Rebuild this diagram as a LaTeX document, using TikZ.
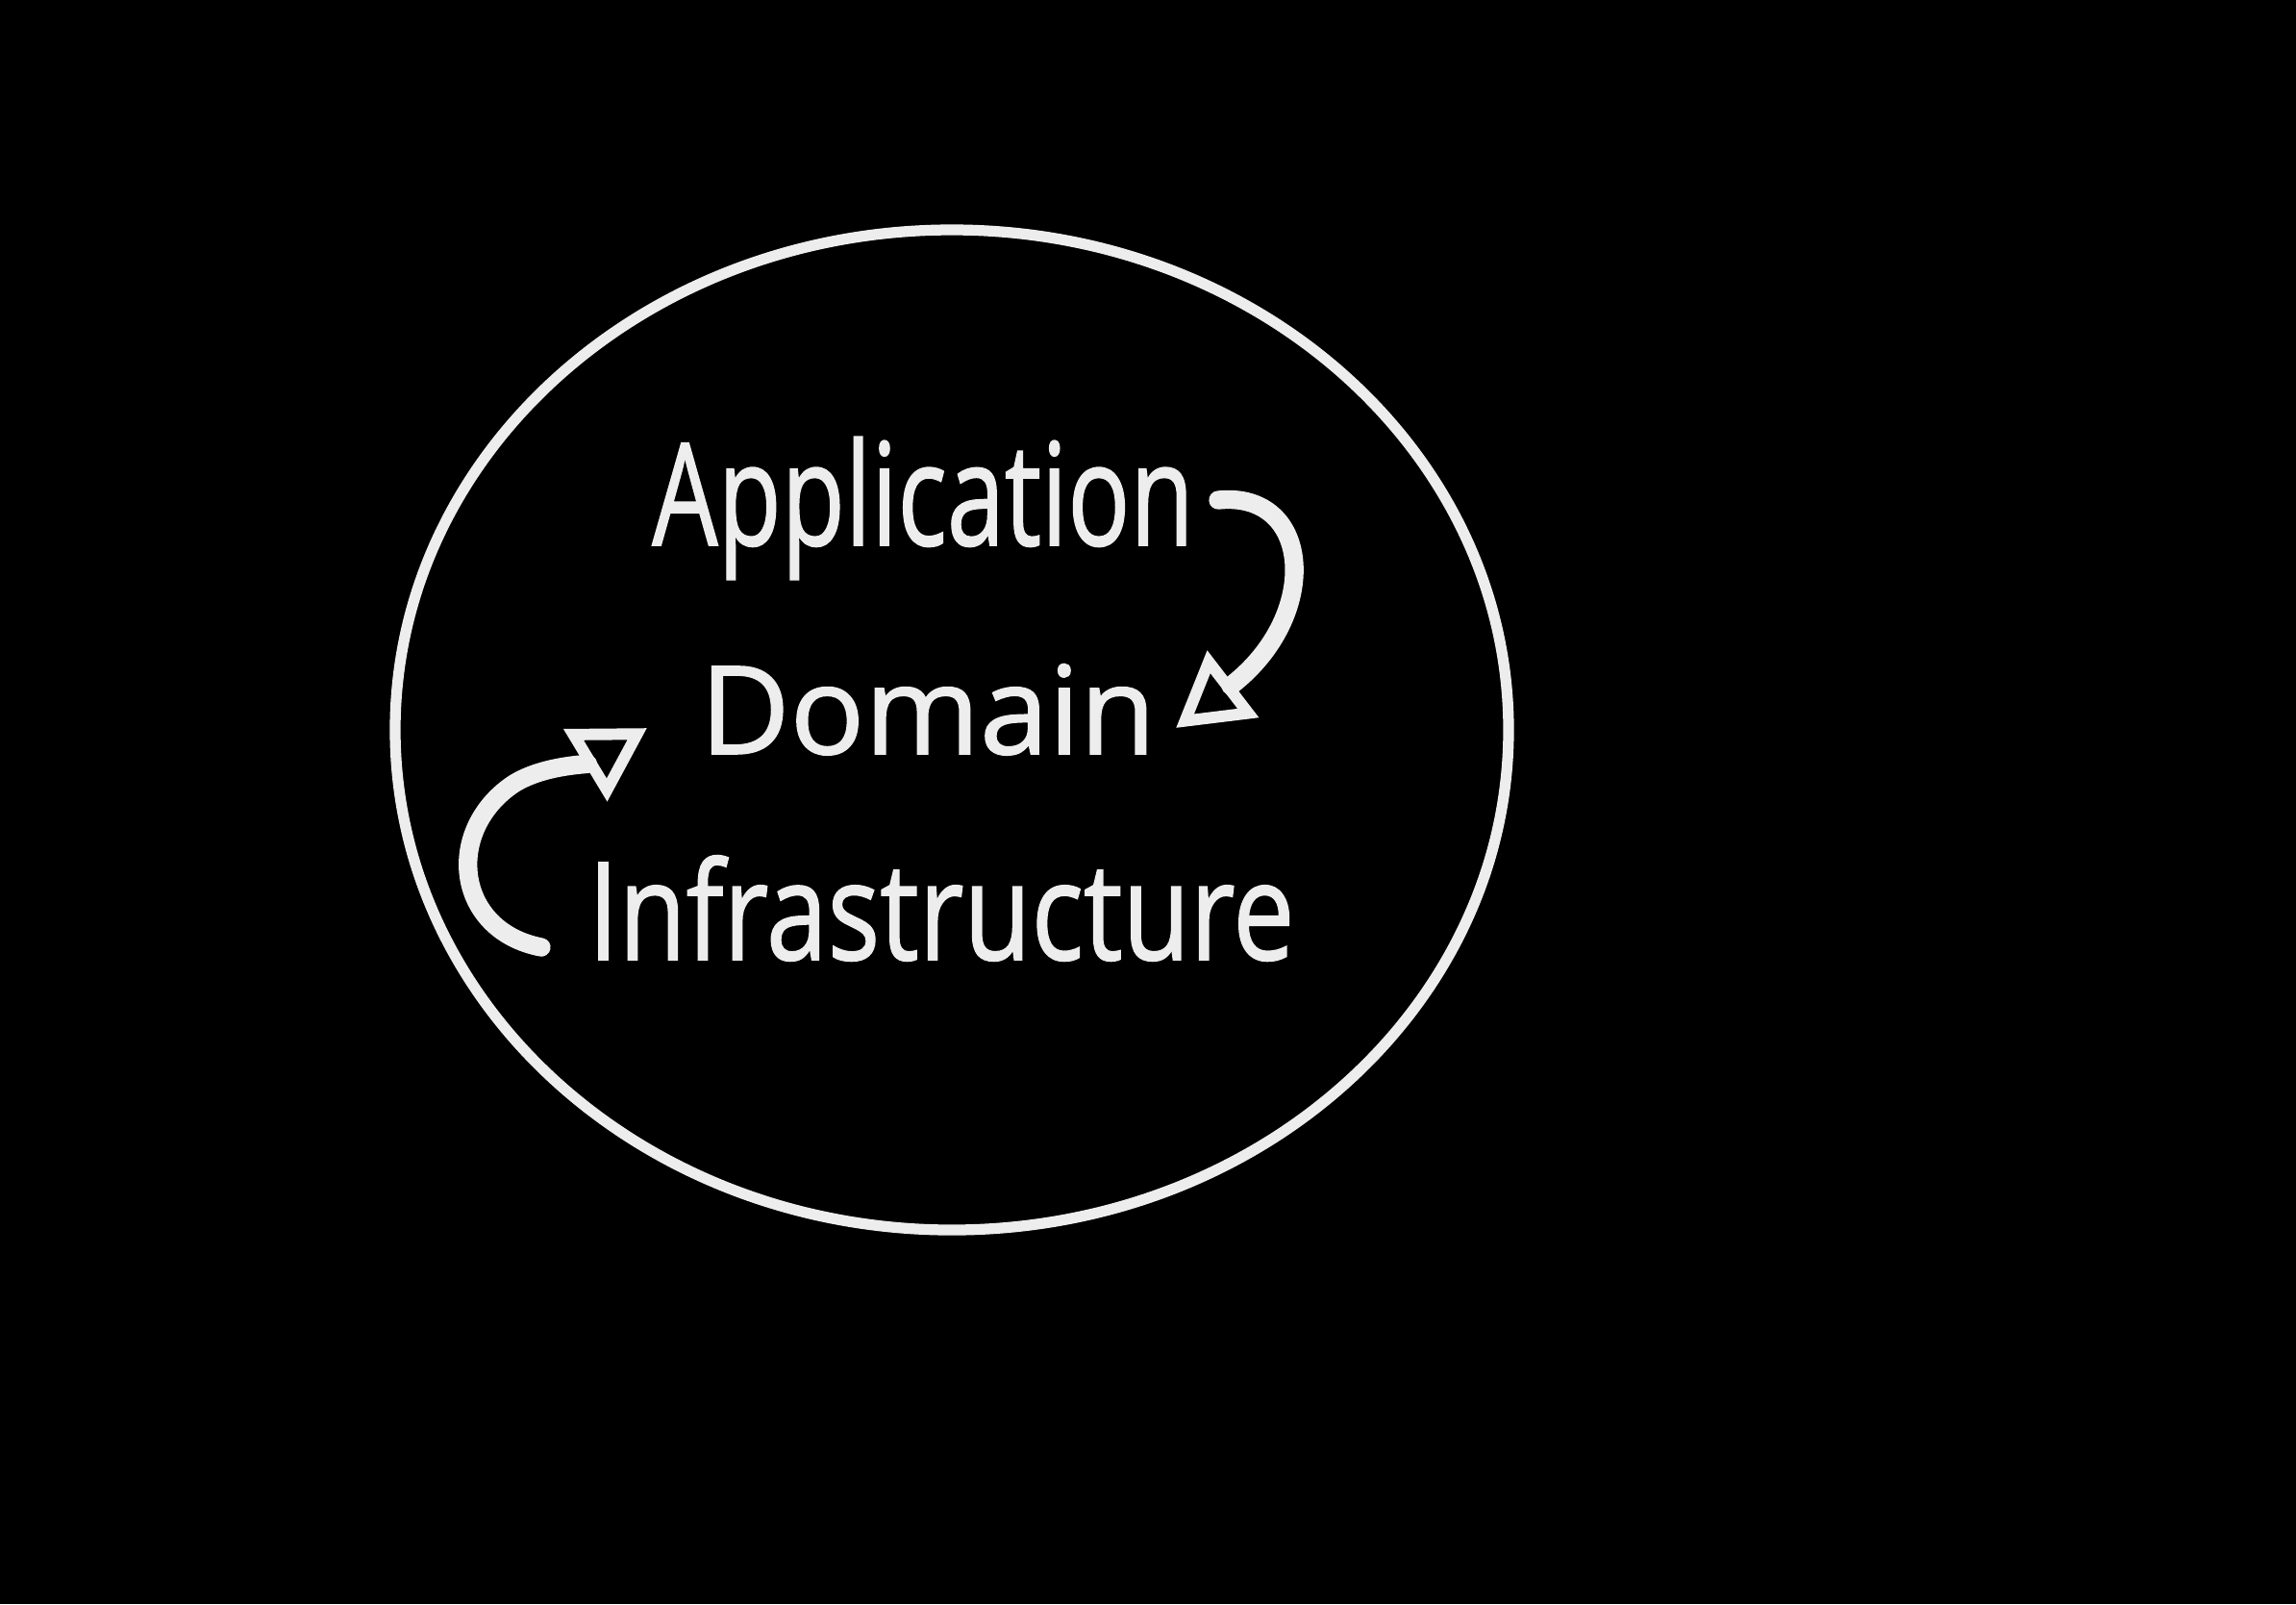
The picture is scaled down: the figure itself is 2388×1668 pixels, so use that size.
\documentclass[tikz,border=0pt]{standalone}
\usepackage{fontspec}
\newfontfamily\chalkfont{Open Sans}[FakeBold=1.2]
\usetikzlibrary{arrows.meta}

\begin{document}
\begin{tikzpicture}[
    x=0.01cm, y=-0.01cm,
    >={Triangle[open, length=7.5mm, width=8.5mm, line width=3.4pt]},
    chalk/.style={white!93!black, line cap=round, line join=round},
    layer/.style={text=white!93!black, anchor=base, inner sep=0pt, font=\chalkfont\fontsize{31}{36}\selectfont}
]
    % Hintergrund (Tafel)
    \fill[black] (0, 0) rectangle (2388, 1668);

    % Ring
    \draw[chalk, line width=3.2pt] (990, 759) ellipse [x radius=579, y radius=520];

    % Schichten
    \node[layer] (app)   at (960, 567) {\scalebox{0.99}[1.36]{Application}};
    \node[layer] (dom)   at (965, 784) {\scalebox{1.18}[1.17]{Domain}};
    \node[layer] (infra) at (979, 998) {\scalebox{1.05}[1.30]{Infrastructure}};

    % Enden der Pfeile
    \coordinate (appout)  at (1267, 520);
    \coordinate (domin1)  at (1223, 757);
    \coordinate (infraout) at (563, 985);
    \coordinate (domin2)  at (673, 757);

    % Pfeile
    \draw[chalk, line width=5.5pt, ->] (appout) .. controls (1365, 510) and (1375, 640) .. (domin1);
    \draw[chalk, line width=5.5pt, ->] (infraout) .. controls (475, 968) and (462, 868) .. (530, 818)
        .. controls (560, 796) and (610, 795) .. (domin2);
\end{tikzpicture}
\end{document}
